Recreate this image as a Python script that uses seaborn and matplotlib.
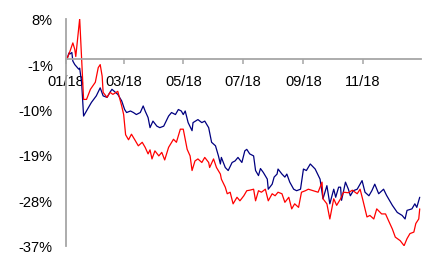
import numpy as np
import pandas as pd
import matplotlib
matplotlib.use("Agg")
import matplotlib.pyplot as plt
import matplotlib.dates as mdates
from matplotlib.ticker import FuncFormatter
import seaborn as sns

# days after 2018-01-01 and cumulative change in %
red_days = [1, 4, 7, 9, 10, 14, 16, 18, 21, 25, 30, 33, 35, 37, 38, 42, 45, 48, 53, 57,
            59, 61, 64, 67, 71, 74, 78, 81, 84, 86, 88, 91, 95, 98, 101, 105, 110, 113, 117, 120,
            124, 127, 129, 132, 135, 139, 142, 146, 147, 151, 154, 158, 159, 163, 165, 168, 171, 175, 178, 182,
            185, 188, 192, 194, 197, 200, 204, 207, 211, 214, 217, 221, 224, 228, 231, 234, 238, 241, 245, 248,
            253, 258, 262, 263, 267, 270, 274, 277, 281, 284, 289, 293, 298, 301, 304, 308, 311, 315, 318, 323,
            327, 330, 334, 337, 342, 346, 349, 352, 356, 358, 361, 362]
red_values = [0.0, 1.5, 3.2, 1.9, 0.5, 8.0, 0.0, -8.0, -8.0, -6.0, -4.6, -1.7, -1.1, -3.4, -6.6, -7.6, -6.6, -7.0, -6.4, -9.3,
              -11.0, -15.0, -16.0, -14.9, -16.2, -17.2, -16.5, -17.5, -18.8, -18.0, -19.8, -18.2, -19.2, -18.5, -20.0, -17.5, -15.9, -16.5, -13.9, -13.9,
              -17.9, -19.2, -22.1, -20.2, -19.8, -20.5, -19.5, -20.5, -21.5, -19.8, -21.5, -22.8, -23.8, -25.4, -26.7, -26.4, -28.7, -27.4, -28.1, -27.1,
              -26.1, -26.0, -25.8, -28.1, -26.1, -26.4, -25.8, -28.1, -26.7, -27.1, -26.4, -26.7, -28.4, -27.4, -29.7, -28.7, -29.4, -26.4, -26.1, -25.8,
              -26.1, -26.4, -24.4, -27.7, -28.7, -31.7, -27.7, -29.0, -27.7, -26.4, -26.5, -26.0, -26.7, -25.8, -28.1, -31.3, -31.0, -31.7, -29.7, -30.7,
              -30.7, -32.0, -33.7, -35.3, -36.0, -37.0, -35.6, -34.6, -34.3, -32.6, -31.7, -29.7]

blue_days = [1, 3, 4, 6, 7, 9, 13, 14, 16, 18, 23, 26, 31, 35, 38, 42, 45, 47, 50, 53,
             57, 60, 62, 66, 69, 72, 76, 79, 81, 84, 86, 89, 93, 96, 100, 105, 108, 112, 115, 118,
             120, 122, 125, 129, 130, 135, 139, 142, 146, 149, 153, 156, 158, 159, 163, 166, 170, 173, 176, 180,
             183, 185, 188, 192, 194, 197, 199, 202, 206, 207, 211, 213, 216, 217, 221, 224, 226, 229, 233, 236,
             240, 243, 246, 250, 255, 260, 263, 267, 270, 274, 276, 279, 281, 282, 286, 289, 291, 294, 298, 303,
             306, 310, 313, 316, 320, 325, 328, 334, 339, 344, 347, 349, 354, 357, 359, 362]
blue_values = [0.0, 1.2, 1.0, 1.3, -0.4, -1.1, -2.0, -1.8, -4.7, -11.3, -9.6, -8.6, -7.3, -5.7, -7.3, -7.6, -6.6, -6.0, -6.5, -7.0,
               -8.3, -10.0, -10.6, -10.3, -10.6, -11.0, -10.6, -9.3, -10.3, -11.6, -13.6, -12.3, -13.3, -13.6, -13.3, -11.3, -10.6, -11.0, -10.0, -10.3,
               -11.0, -10.3, -12.6, -14.2, -12.6, -12.0, -12.6, -12.3, -13.6, -16.5, -17.2, -19.2, -20.8, -19.5, -21.5, -22.1, -20.5, -20.2, -19.5, -20.5,
               -18.2, -17.9, -18.8, -19.2, -22.1, -23.1, -21.7, -22.5, -23.8, -25.8, -24.8, -23.4, -22.8, -21.8, -22.8, -23.4, -22.8, -24.4, -25.8, -26.1,
               -25.8, -21.8, -22.1, -20.8, -21.8, -23.8, -27.7, -25.1, -28.7, -25.8, -27.4, -25.4, -25.4, -28.0, -24.4, -25.8, -27.1, -26.1, -25.8, -24.1,
               -26.4, -27.1, -26.1, -24.8, -26.7, -25.8, -27.0, -29.0, -30.4, -31.0, -31.7, -30.0, -29.7, -28.7, -29.4, -27.4]

y_ticks = [-37, -28, -19, -10, -1, 8]
tick_months = [1, 3, 5, 7, 9, 11]

start = pd.Timestamp("2018-01-01")
red_df = pd.DataFrame({"date": start + pd.to_timedelta(red_days, unit="D"), "value": red_values})
blue_df = pd.DataFrame({"date": start + pd.to_timedelta(blue_days, unit="D"), "value": blue_values})

sns.set_style("white")
plt.rcParams["font.family"] = ["Liberation Sans", "DejaVu Sans"]

fig = plt.figure(figsize=(4.27, 2.55), dpi=100)
ax = fig.add_axes([66 / 427, 1 - 246.7 / 255, 354.7 / 427, 227 / 255])

sns.lineplot(data=blue_df, x="date", y="value", color="#000080", linewidth=0.9, ax=ax)
sns.lineplot(data=red_df, x="date", y="value", color="#ff0000", linewidth=0.9, ax=ax)

axis_grey = "#a6a6a6"
ax.set_xlim(pd.Timestamp("2018-01-01"), pd.Timestamp("2018-12-30"))
ax.set_ylim(-37, 8)
ax.set_yticks(y_ticks)
ax.yaxis.set_major_formatter(FuncFormatter(lambda v, pos: f"{v:.0f}%"))
ax.xaxis.set_major_locator(mdates.MonthLocator(bymonth=tick_months))
ax.xaxis.set_major_formatter(mdates.DateFormatter("%m/%y"))
ax.set(xlabel="", ylabel="")

ax.spines["top"].set_visible(False)
ax.spines["right"].set_visible(False)
ax.spines["bottom"].set_position(("data", 0))
for side in ["left", "bottom"]:
    ax.spines[side].set_color(axis_grey)
    ax.spines[side].set_linewidth(1.3)
ax.tick_params(axis="both", which="major", direction="out", length=3.5, width=1.1,
               color=axis_grey, labelsize=10.5, labelcolor="#000000")
ax.tick_params(axis="y", pad=6)
ax.tick_params(axis="x", pad=7, bottom=True)

fig.savefig("out.png", dpi=100)
